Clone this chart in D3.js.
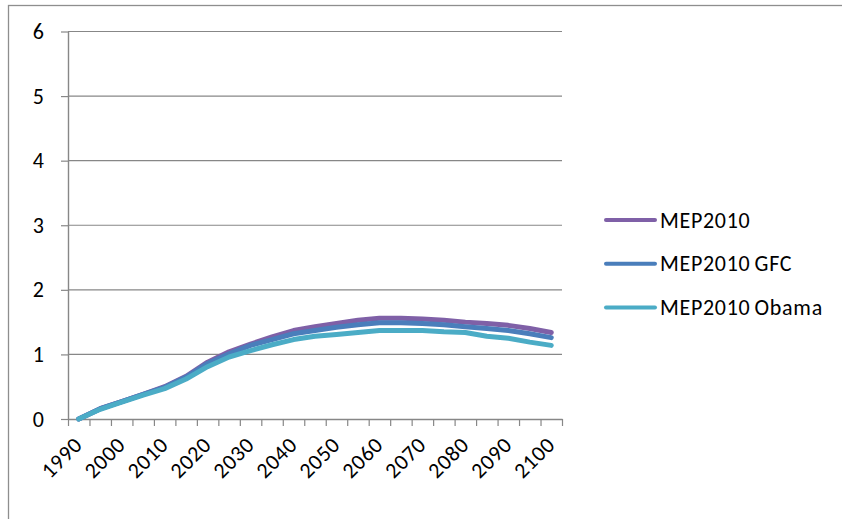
<!DOCTYPE html>
<html>
<head>
<meta charset="utf-8">
<script src="https://cdn.jsdelivr.net/npm/d3@7"></script>
<style>
  html, body { margin: 0; padding: 0; background: #fff; }
  svg { display: block; font-family: Carlito, Calibri, Lato, sans-serif; }
</style>
</head>
<body>
<svg id="chart" width="842" height="519"></svg>
<script>
// Cumulative values, five-year steps 1990–2100
const years = [1990, 1995, 2000, 2005, 2010, 2015, 2020, 2025, 2030, 2035, 2040, 2045,
               2050, 2055, 2060, 2065, 2070, 2075, 2080, 2085, 2090, 2095, 2100];
const mep2010 = [0, 0.16, 0.27, 0.38, 0.50, 0.66, 0.88, 1.04, 1.16, 1.27, 1.37, 1.43,
                 1.48, 1.53, 1.56, 1.56, 1.55, 1.53, 1.50, 1.48, 1.45, 1.40, 1.34];
const mep2010Gfc = [0, 0.16, 0.27, 0.38, 0.49, 0.65, 0.86, 1.01, 1.14, 1.23, 1.32, 1.37,
                    1.42, 1.46, 1.49, 1.49, 1.48, 1.46, 1.43, 1.40, 1.37, 1.32, 1.26];
const mep2010Obama = [0, 0.15, 0.26, 0.37, 0.47, 0.62, 0.81, 0.96, 1.06, 1.15, 1.23, 1.28,
                      1.31, 1.34, 1.37, 1.37, 1.37, 1.35, 1.34, 1.28, 1.25, 1.19, 1.14];
const seriesNames = ["MEP2010", "MEP2010 GFC", "MEP2010 Obama"];
const seriesColors = ["#7f60a7", "#4a7ebb", "#4bacc6"];
const yTicks = [0, 1, 2, 3, 4, 5, 6];

const series = [mep2010, mep2010Gfc, mep2010Obama].map((vals, i) => ({
  name: seriesNames[i], color: seriesColors[i],
  points: years.map((yr, j) => ({ year: yr, value: vals[j] }))
}));

const svg = d3.select("#chart");
const plot = { left: 68, right: 562, top: 31.5, bottom: 419 };
const fontSize = 22;
const tracking = 0.7;

// chart area frame (runs off the right and bottom edges)
svg.append("rect")
  .attr("x", 8.5).attr("y", 5.5).attr("width", 900).attr("height", 600)
  .attr("fill", "none").attr("stroke", "#8e8e8e").attr("stroke-width", 1.3);

const x = d3.scaleBand().domain(years).range([plot.left, plot.right]).padding(0);
const xEdge = d3.scaleLinear().domain([0, years.length]).range([plot.left, plot.right]);
const y = d3.scaleLinear().domain([0, 6]).range([plot.bottom, plot.top]);

// horizontal gridlines
svg.append("g").selectAll("line")
  .data(yTicks.filter(t => t > 0))
  .join("line")
  .attr("x1", plot.left).attr("x2", plot.right)
  .attr("y1", d => y(d)).attr("y2", d => y(d))
  .attr("stroke", "#878787").attr("stroke-width", 1.2);

// y axis
const yAxis = svg.append("g")
  .attr("transform", `translate(${plot.left},0)`)
  .call(d3.axisLeft(y).tickValues(yTicks).tickSize(7).tickSizeOuter(0).tickPadding(17)
        .tickFormat(d3.format("d")));
yAxis.select(".domain").attr("stroke", "#878787").attr("stroke-width", 1.4);
yAxis.selectAll(".tick line").attr("stroke", "#878787").attr("stroke-width", 1.2);
yAxis.selectAll(".tick text").attr("font-size", fontSize).attr("fill", "#000")
  .attr("font-family", "Carlito, Calibri, Lato, sans-serif");

// x axis: tick marks on category boundaries
const xAxis = svg.append("g")
  .attr("transform", `translate(0,${plot.bottom})`)
  .call(d3.axisBottom(xEdge).tickValues(d3.range(years.length + 1)).tickSize(7)
        .tickSizeOuter(0).tickFormat(""));
xAxis.select(".domain").attr("stroke", "#878787").attr("stroke-width", 1.4);
xAxis.selectAll(".tick line").attr("stroke", "#878787").attr("stroke-width", 1.2);

// rotated decade labels
svg.append("g").selectAll("text")
  .data(years.filter(yr => yr % 10 === 0))
  .join("text")
  .attr("transform", d => `translate(${x(d) + x.bandwidth() / 2 + 5},${plot.bottom + 27}) rotate(-45)`)
  .attr("text-anchor", "end")
  .attr("font-size", fontSize)
  .attr("letter-spacing", tracking)
  .attr("fill", "#000")
  .text(d => d);

// series lines
const line = d3.line().x(d => x(d.year) + x.bandwidth() / 2).y(d => y(d.value));
svg.append("g").selectAll("path")
  .data(series)
  .join("path")
  .attr("d", d => line(d.points))
  .attr("fill", "none")
  .attr("stroke", d => d.color)
  .attr("stroke-width", 5)
  .attr("stroke-linecap", "round")
  .attr("stroke-linejoin", "round");

// legend
const legend = svg.append("g").attr("transform", "translate(606,220)");
const rows = legend.selectAll("g").data(series).join("g")
  .attr("transform", (d, i) => `translate(0,${i * 43.7})`);
rows.append("line")
  .attr("x1", 0).attr("x2", 49).attr("y1", 0).attr("y2", 0)
  .attr("stroke", d => d.color).attr("stroke-width", 4).attr("stroke-linecap", "round");
rows.append("text")
  .attr("x", 54).attr("y", 0).attr("dy", "0.35em")
  .attr("font-size", fontSize).attr("fill", "#000")
  .attr("letter-spacing", tracking)
  .attr("word-spacing", -1.5)
  .text(d => d.name);
</script>
</body>
</html>
